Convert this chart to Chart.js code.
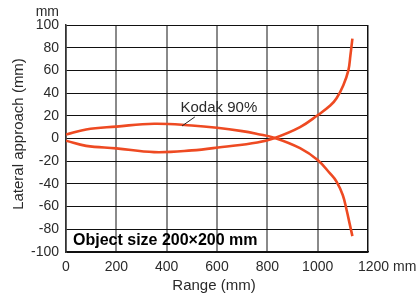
<!DOCTYPE html>
<html>
<head>
<meta charset="utf-8">
<script src="https://cdn.jsdelivr.net/npm/chart.js@4.4.1/dist/chart.umd.min.js"></script>
<style>
  html, body { margin: 0; padding: 0; background: #fff; }
  #wrap { width: 417px; height: 300px; }
</style>
</head>
<body>
<div id="wrap"><canvas id="chart" width="417" height="300"></canvas></div>
<script>
// curve that starts above zero and ends below
const rangeA = [0, 80, 200, 350, 500, 600, 700, 760, 830, 930, 1000, 1050, 1075, 1100, 1115, 1127, 1138];
const latA = [3.5, 8, 10.5, 13, 11.5, 9.5, 6.5, 4, 0.5, -8.5, -19, -31, -38, -50, -63, -75, -86];

// curve that starts below zero and ends above
const rangeB = [0, 80, 200, 350, 500, 620, 760, 830, 930, 1000, 1050, 1075, 1102, 1122, 1130, 1138];
const latB = [-2, -6.5, -8.7, -12, -10.5, -7.5, -3.5, 0.5, 10, 20.5, 29, 35.5, 47, 60, 73, 88];

const xTicks = [0, 200, 400, 600, 800, 1000, 1200];
const yTicks = [-100, -80, -60, -40, -20, 0, 20, 40, 60, 80, 100];

const lineColor = '#ee4a22';
const textColor = '#2a2a2a';
const fontName = '"Liberation Sans", Arial, sans-serif';

function points(xs, ys) {
  return xs.map((x, i) => ({ x: x, y: ys[i] }));
}

// titles, unit labels and the notes inside the plot
const labelsPlugin = {
  id: 'labels',
  afterDraw(chart) {
    const ctx = chart.ctx;
    const xs = chart.scales.x;
    const ys = chart.scales.y;
    const area = chart.chartArea;
    ctx.save();
    ctx.fillStyle = textColor;

    ctx.font = '14px ' + fontName;
    ctx.textAlign = 'right';
    ctx.textBaseline = 'middle';
    ctx.fillText('mm', 59, 12);

    ctx.textAlign = 'left';
    ctx.fillText('1200 mm', 358, 267);

    ctx.font = '15px ' + fontName;
    ctx.textAlign = 'center';
    ctx.fillText('Range (mm)', 214, 286);

    ctx.save();
    ctx.translate(19, 134);
    ctx.rotate(-Math.PI / 2);
    ctx.fillText('Lateral approach (mm)', 0, 0);
    ctx.restore();

    // Kodak label with leader line
    ctx.textAlign = 'left';
    ctx.textBaseline = 'alphabetic';
    ctx.fillText('Kodak 90%', xs.getPixelForValue(455), ys.getPixelForValue(23));
    ctx.strokeStyle = '#222';
    ctx.lineWidth = 1;
    ctx.beginPath();
    ctx.moveTo(xs.getPixelForValue(461), ys.getPixelForValue(11));
    ctx.lineTo(xs.getPixelForValue(512), ys.getPixelForValue(19));
    ctx.stroke();

    ctx.fillStyle = '#000';
    ctx.font = 'bold 16px ' + fontName;
    ctx.textBaseline = 'middle';
    ctx.fillText('Object size 200\u00d7200 mm', area.left + 7, 241);
    ctx.restore();
  }
};

new Chart(document.getElementById('chart'), {
  type: 'line',
  data: {
    datasets: [
      {
        data: points(rangeA, latA),
        borderColor: lineColor,
        borderWidth: 2.6,
        pointRadius: 0,
        tension: 0.4
      },
      {
        data: points(rangeB, latB),
        borderColor: lineColor,
        borderWidth: 2.6,
        pointRadius: 0,
        tension: 0.4
      }
    ]
  },
  options: {
    responsive: false,
    animation: false,
    events: [],
    layout: { padding: { left: 0, right: 49, top: 25, bottom: 0 } },
    plugins: { legend: { display: false }, tooltip: { enabled: false } },
    scales: {
      x: {
        type: 'linear',
        min: 0,
        max: 1200,
        afterBuildTicks(scale) { scale.ticks = xTicks.map(v => ({ value: v })); },
        afterFit(scale) { scale.height = 48; },
        grid: {
          color: ctx => (ctx.tick && ctx.tick.value === 1200 ? '#111' : '#8a8a8a'),
          lineWidth: ctx => (ctx.tick && ctx.tick.value === 1200 ? 1.5 : 2),
          drawTicks: false
        },
        border: { color: '#111', width: 1.5 },
        ticks: {
          autoSkip: false,
          maxRotation: 0,
          padding: 7,
          color: textColor,
          font: { family: fontName, size: 14 },
          callback: v => (v === 1200 ? '' : String(v))
        }
      },
      y: {
        min: -100,
        max: 100,
        afterBuildTicks(scale) { scale.ticks = yTicks.map(v => ({ value: v })); },
        afterFit(scale) { scale.width = 66; },
        grid: { color: '#111', lineWidth: 1, drawTicks: false },
        border: { color: '#333', width: 1.5 },
        ticks: {
          autoSkip: false,
          padding: 7,
          color: textColor,
          font: { family: fontName, size: 14 }
        }
      }
    }
  },
  plugins: [labelsPlugin]
});
</script>
</body>
</html>
